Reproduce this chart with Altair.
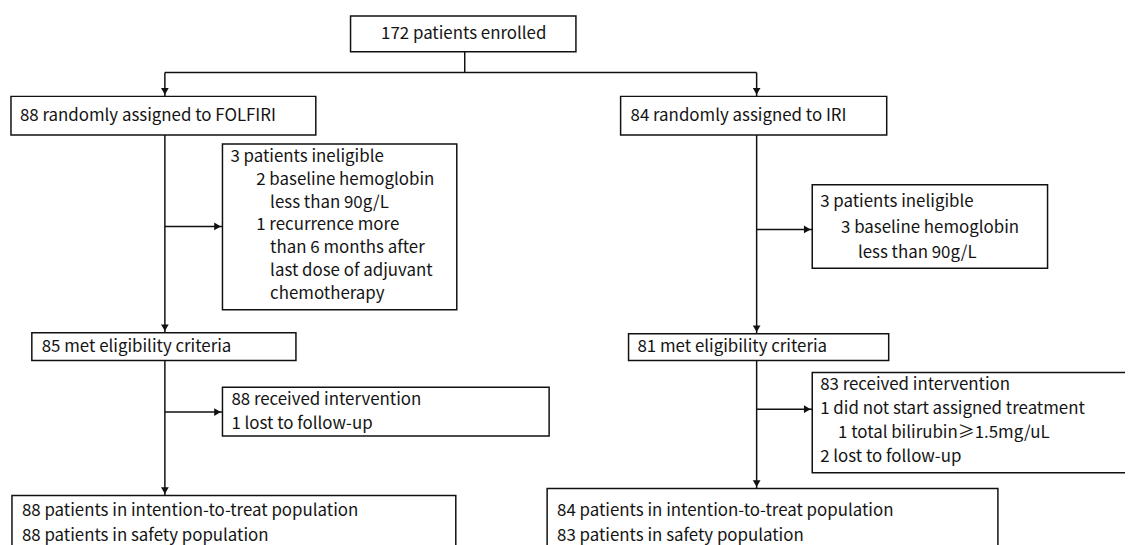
import altair as alt
import pandas as pd

# ---- content (text of each box, line by line) ----
enrolled_lines = ["172 patients enrolled"]
folfiri_lines = ["88 randomly assigned to FOLFIRI"]
iri_lines = ["84 randomly assigned to IRI"]
folfiri_excl_lines = ["3 patients ineligible", "2 baseline hemoglobin", "less than 90g/L",
                      "1 recurrence more", "than 6 months after", "last dose of adjuvant",
                      "chemotherapy"]
iri_excl_lines = ["3 patients ineligible", "3 baseline hemoglobin", "less than 90g/L"]
folfiri_elig_lines = ["85 met eligibility criteria"]
iri_elig_lines = ["81 met eligibility criteria"]
folfiri_int_lines = ["88 received intervention", "1 lost to follow-up"]
iri_int_lines = ["83 received intervention", "1 did not start assigned treatment",
                 "1 total bilirubin≥1.5mg/uL", "2 lost to follow-up"]
folfiri_pop_lines = ["88 patients in intention-to-treat population", "88 patients in safety population"]
iri_pop_lines = ["84 patients in intention-to-treat population", "83 patients in safety population"]

# ---- layout of the diagram (diagram units) ----
box_names = ["enrolled", "folfiri", "iri", "folfiri_excl", "iri_excl", "folfiri_elig",
             "iri_elig", "folfiri_int", "iri_int", "folfiri_pop", "iri_pop"]
box_x0 = [353, 11, 625, 224, 818, 32, 633, 224, 818, 12, 551]
box_x1 = [580, 318, 893, 460, 1055, 298, 895, 553, 1145, 459, 1005]
box_y0 = [14, 95, 95, 143, 184, 333, 334, 388, 373, 497, 490]
box_y1 = [50, 134, 134, 310, 268, 361, 361, 437, 474, 580, 580]

text_rows = []
def add_lines(lines, xs_, ys_, align="left"):
    for t, xx, yy in zip(lines, xs_, ys_):
        text_rows.append({"x": xx, "y": yy, "text": t, "anchor": align})

add_lines(enrolled_lines, [467], [32], align="center")
add_lines(folfiri_lines, [20], [115])
add_lines(iri_lines, [635], [115])
add_lines(folfiri_excl_lines,
          [232, 258, 272, 258, 272, 272, 272],
          [156, 179, 202, 225, 248, 271, 294])
add_lines(iri_excl_lines, [826, 847, 864], [201, 228, 253])
add_lines(folfiri_elig_lines, [42], [347])
add_lines(iri_elig_lines, [642], [347])
add_lines(folfiri_int_lines, [233, 233], [401, 425])
add_lines(iri_int_lines, [826, 826, 844, 826], [386, 410, 434, 458])
add_lines(folfiri_pop_lines, [22, 22], [513, 538])
add_lines(iri_pop_lines, [561, 561], [513, 538])

seg_x = [468, 166, 166, 762, 166, 166, 166, 166, 762, 762, 762, 762]
seg_x2 = [468, 762, 166, 762, 166, 224, 166, 224, 762, 818, 762, 818]
seg_y = [50, 71, 71, 71, 134, 226, 361, 413, 134, 229, 361, 410]
seg_y2 = [71, 71, 95, 95, 333, 226, 497, 413, 334, 229, 490, 410]

arrow_x = [166, 762, 166, 762, 166, 762, 224, 818, 224, 818]
arrow_y = [95, 95, 333, 334, 497, 490, 226, 229, 413, 410]
arrow_dir = ["down", "down", "down", "down", "down", "down", "right", "right", "right", "right"]

# ---- frames ----
boxes = pd.DataFrame({"name": box_names, "x0": box_x0, "x1": box_x1, "y0": box_y0, "y1": box_y1})
segs = pd.DataFrame({"x": seg_x, "x2": seg_x2, "y": seg_y, "y2": seg_y2})
texts = pd.DataFrame(text_rows)
arr = pd.DataFrame({"x": arrow_x, "y": arrow_y, "dir": arrow_dir})
arr["px"] = [x - 5 if d == "right" else x for x, d in zip(arr["x"], arr["dir"])]
arr["py"] = [y - 5 if d == "down" else y for y, d in zip(arr["y"], arr["dir"])]

W, H = 1125, 560
xs = alt.Scale(domain=[8, 8 + W], nice=False, zero=False)
ys = alt.Scale(domain=[8, 8 + H], nice=False, zero=False, reverse=True)
FONT = "Noto Sans CJK SC"
INK = "#111111"

rects = alt.Chart(boxes).mark_rect(fill="white", stroke=INK, strokeWidth=1.5).encode(
    x=alt.X("x0:Q", scale=xs, axis=None), x2="x1:Q",
    y=alt.Y("y0:Q", scale=ys, axis=None), y2="y1:Q")

rules = alt.Chart(segs).mark_rule(color=INK, strokeWidth=1.5).encode(
    x=alt.X("x:Q", scale=xs, axis=None), x2="x2:Q",
    y=alt.Y("y:Q", scale=ys, axis=None), y2="y2:Q")

heads = alt.Chart(arr).mark_point(filled=True, color=INK, opacity=1, size=60).encode(
    x=alt.X("px:Q", scale=xs, axis=None),
    y=alt.Y("py:Q", scale=ys, axis=None),
    shape=alt.Shape("dir:N", scale=alt.Scale(domain=["down", "right"],
                                             range=["triangle-down", "triangle-right"]),
                    legend=None))

def text_layer(df, align):
    return alt.Chart(df).mark_text(align=align, baseline="middle", font=FONT,
                                   fontSize=17, color="#141414").encode(
        x=alt.X("x:Q", scale=xs, axis=None),
        y=alt.Y("y:Q", scale=ys, axis=None),
        text="text:N")

labels_left = text_layer(texts[texts["anchor"] == "left"], "left")
labels_center = text_layer(texts[texts["anchor"] == "center"], "center")

chart = alt.layer(rules, heads, rects, labels_left, labels_center).properties(
    width=W, height=H, padding=0,
    autosize=alt.AutoSizeParams(type="none"),
    background="white",
).configure_view(strokeWidth=0)

chart.save("out.html", embed_options={"renderer": "svg", "actions": False})
